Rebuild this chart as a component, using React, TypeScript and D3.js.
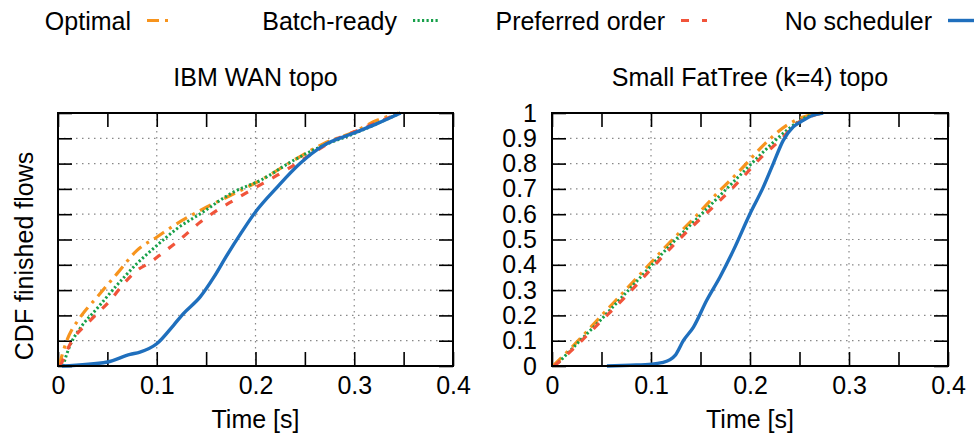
import React, { useEffect, useRef } from 'react';
import * as d3 from 'd3';

// CDF points [time s, fraction]
const wanOptimal: [number, number][] = [
  [0.001, 0], [0.009, 0.101], [0.0226, 0.193], [0.0395, 0.272], [0.0598, 0.365],
  [0.08, 0.457], [0.1003, 0.51], [0.1205, 0.563], [0.1442, 0.615], [0.178, 0.681],
  [0.205, 0.734], [0.2387, 0.813], [0.269, 0.879], [0.2995, 0.925], [0.323, 0.971], [0.345, 1],
];
const wanBatch: [number, number][] = [
  [0.005, 0], [0.012, 0.08], [0.0226, 0.15], [0.0395, 0.227], [0.0598, 0.32],
  [0.08, 0.405], [0.1003, 0.477], [0.1205, 0.543], [0.1442, 0.602], [0.178, 0.688],
  [0.205, 0.734], [0.2387, 0.813], [0.269, 0.872], [0.2995, 0.918], [0.3467, 1],
];
const wanPreferred: [number, number][] = [
  [0.0024, 0], [0.0125, 0.088], [0.0327, 0.18], [0.053, 0.26], [0.0665, 0.325],
  [0.08, 0.378], [0.0935, 0.41], [0.107, 0.45], [0.1205, 0.49], [0.1442, 0.569],
  [0.161, 0.615], [0.178, 0.655], [0.195, 0.694], [0.222, 0.754], [0.2387, 0.793],
  [0.2623, 0.852], [0.2792, 0.892], [0.2995, 0.925], [0.3467, 1],
];
const wanNone: [number, number][] = [
  [0.004, 0], [0.05, 0.016], [0.073, 0.046], [0.083, 0.055], [0.1, 0.088],
  [0.117, 0.161], [0.127, 0.207], [0.144, 0.273], [0.158, 0.352], [0.171, 0.437],
  [0.185, 0.523], [0.2, 0.609], [0.222, 0.707], [0.245, 0.8], [0.269, 0.872],
  [0.299, 0.92], [0.323, 0.958], [0.347, 1],
];

const ftOptimal: [number, number][] = [
  [0.001, 0], [0.0252, 0.095], [0.0487, 0.194], [0.0723, 0.292], [0.0958, 0.391],
  [0.1193, 0.49], [0.1429, 0.582], [0.1664, 0.681], [0.1899, 0.773], [0.2134, 0.872],
  [0.237, 0.951], [0.2538, 0.984], [0.2739, 1],
];
const ftBatch: [number, number][] = [
  [0.0034, 0], [0.0252, 0.088], [0.0487, 0.18], [0.0723, 0.279], [0.0958, 0.378],
  [0.1193, 0.477], [0.1429, 0.569], [0.1664, 0.661], [0.1899, 0.754], [0.2134, 0.846],
  [0.237, 0.931], [0.2538, 0.978], [0.2706, 1],
];
const ftPreferred: [number, number][] = [
  [0.0024, 0], [0.0252, 0.082], [0.0487, 0.174], [0.0723, 0.266], [0.0958, 0.365],
  [0.1193, 0.464], [0.1429, 0.556], [0.1664, 0.642], [0.1899, 0.734], [0.2134, 0.833],
  [0.2303, 0.892], [0.247, 0.958], [0.2639, 0.99], [0.2739, 1],
];
const ftNone: [number, number][] = [
  [0.0555, 0], [0.079, 0.003], [0.1008, 0.007], [0.1109, 0.013], [0.1193, 0.025],
  [0.1244, 0.042], [0.1328, 0.101], [0.1429, 0.154], [0.1563, 0.26], [0.1697, 0.352],
  [0.1832, 0.457], [0.2, 0.602], [0.2134, 0.707], [0.2235, 0.8], [0.2336, 0.892],
  [0.2437, 0.945], [0.2538, 0.971], [0.2639, 0.991], [0.2739, 1],
];

const seriesNames = ['Optimal', 'Batch-ready', 'Preferred order', 'No scheduler'];
const xTicks = [0, 0.05, 0.1, 0.15, 0.2, 0.25, 0.3, 0.35, 0.4];
const yTicks = [0, 0.1, 0.2, 0.3, 0.4, 0.5, 0.6, 0.7, 0.8, 0.9, 1];
const gridX = [0.1, 0.2, 0.3];
const gridY = [0.1, 0.2, 0.3, 0.4, 0.5, 0.6, 0.7, 0.8, 0.9];

const styles = [
  { color: '#f7941d', dash: '12,6,3,6', width: 3.2 },
  { color: '#17a04a', dash: '2.2,2.3', width: 3 },
  { color: '#f1543a', dash: '8,10', width: 3.2 },
  { color: '#1f6fbd', dash: null, width: 3.4 },
];

const width = 974;
const height = 437;
const font = "'Liberation Sans', Arial, Helvetica, sans-serif";
const fs = '25px';

export default function App() {
  const ref = useRef<SVGSVGElement>(null);

  useEffect(() => {
    const svg = d3.select(ref.current);
    svg.selectAll('*').remove();
    svg.attr('width', width).attr('height', height).style('font-family', font);

    const top = 113;
    const bottom = 366;
    const tick = 14;

    // legend
    const legendEnds = [131, 397, 665, 932];
    seriesNames.forEach((name, i) => {
      svg.append('text').attr('x', legendEnds[i]).attr('y', 30)
        .attr('text-anchor', 'end').style('font-size', fs).text(name);
      svg.append('line')
        .attr('x1', legendEnds[i] + 16).attr('x2', legendEnds[i] + 42)
        .attr('y1', 20.5).attr('y2', 20.5)
        .attr('stroke', styles[i].color).attr('stroke-width', styles[i].width)
        .attr('stroke-dasharray', i === 2 ? '8,13' : styles[i].dash);
    });

    const drawPanel = (x0: number, x1: number, title: string, data: [number, number][][], yLabels: boolean) => {
      const x = d3.scaleLinear().domain([0, 0.4]).range([x0, x1]);
      const y = d3.scaleLinear().domain([0, 1]).range([bottom, top]);
      const g = svg.append('g');

      // dotted grid
      g.selectAll('.gx').data(gridX).enter().append('line')
        .attr('x1', (d) => x(d)).attr('x2', (d) => x(d))
        .attr('y1', top).attr('y2', bottom)
        .attr('stroke', '#888').attr('stroke-width', 1.2).attr('stroke-dasharray', '1.5,4.5');
      g.selectAll('.gy').data(gridY).enter().append('line')
        .attr('x1', x0).attr('x2', x1)
        .attr('y1', (d) => y(d)).attr('y2', (d) => y(d))
        .attr('stroke', '#888').attr('stroke-width', 1.2).attr('stroke-dasharray', '1.5,4.5');

      // inward ticks on all four sides
      const fmt = (d: d3.NumberValue) => {
        const v = +d;
        if (Math.abs(v * 10 - Math.round(v * 10)) > 1e-6) return '';
        return v === 0 ? '0' : d3.format('.1f')(v);
      };
      const xb = g.append('g').attr('transform', `translate(0,${bottom})`)
        .call(d3.axisBottom(x).tickValues(xTicks).tickSize(-tick).tickPadding(10).tickFormat(fmt));
      const xt = g.append('g').attr('transform', `translate(0,${top})`)
        .call(d3.axisTop(x).tickValues(xTicks).tickSize(-tick).tickFormat(() => ''));
      const yl = g.append('g').attr('transform', `translate(${x0},0)`)
        .call(d3.axisLeft(y).tickValues(yTicks).tickSize(-tick).tickPadding(15)
          .tickFormat(yLabels ? (d) => (+d === 0 || +d === 1 ? String(+d) : d3.format('.1f')(+d)) : () => ''));
      const yr = g.append('g').attr('transform', `translate(${x1},0)`)
        .call(d3.axisRight(y).tickValues(yTicks).tickSize(-tick).tickFormat(() => ''));
      [xb, xt, yl, yr].forEach((a) => {
        a.select('.domain').remove();
        a.selectAll('line').attr('stroke', '#000').attr('stroke-width', 1.6);
        a.selectAll('text').style('font-size', fs).style('font-family', font).attr('fill', '#000');
      });

      // curves
      const line = d3.line<[number, number]>()
        .x((d) => x(d[0])).y((d) => y(d[1]))
        .curve(d3.curveMonotoneX);
      data.forEach((s, i) => {
        g.append('path').datum(s).attr('d', line)
          .attr('fill', 'none')
          .attr('stroke', styles[i].color)
          .attr('stroke-width', styles[i].width)
          .attr('stroke-dasharray', styles[i].dash)
          .attr('stroke-linejoin', 'round');
      });

      // frame
      g.append('rect').attr('x', x0).attr('y', top)
        .attr('width', x1 - x0).attr('height', bottom - top)
        .attr('fill', 'none').attr('stroke', '#000').attr('stroke-width', 2);

      g.append('text').attr('x', (x0 + x1) / 2).attr('y', 86)
        .attr('text-anchor', 'middle').style('font-size', fs).text(title);
      g.append('text').attr('x', (x0 + x1) / 2).attr('y', 428)
        .attr('text-anchor', 'middle').style('font-size', fs).text('Time [s]');
    };

    drawPanel(58, 453, 'IBM WAN topo', [wanOptimal, wanBatch, wanPreferred, wanNone], false);
    drawPanel(552, 948, 'Small FatTree (k=4) topo', [ftOptimal, ftBatch, ftPreferred, ftNone], true);

    svg.append('text').attr('transform', 'rotate(-90)')
      .attr('x', -256).attr('y', 33)
      .attr('text-anchor', 'middle').style('font-size', fs)
      .text('CDF finished flows');
  }, []);

  return (
    <div>
      <svg ref={ref} style={{ position: 'absolute', left: 0, top: 0, background: '#fff' }} />
    </div>
  );
}
